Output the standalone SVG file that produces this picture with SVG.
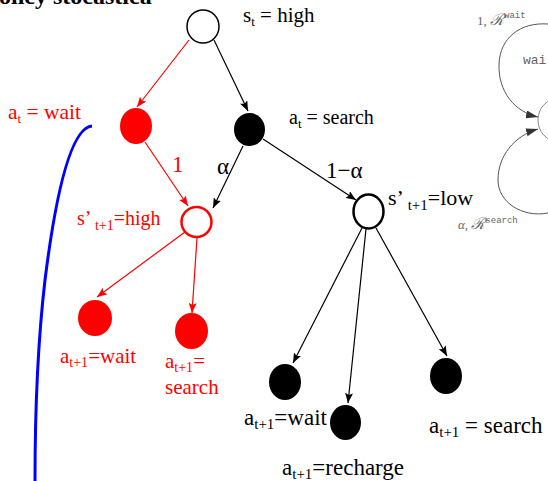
<svg xmlns="http://www.w3.org/2000/svg" width="548" height="481" viewBox="0 0 548 481">
<style>
.t{font-family:"Liberation Serif","Times New Roman",serif}
.r{fill:#ff0000}
.k{fill:#000}
.g{font-family:"Liberation Serif",serif;fill:#666;font-size:13px}
.m{font-family:"Liberation Mono","DejaVu Sans Mono",monospace;fill:#666}
</style>
<defs>
<marker id="ar" viewBox="0 0 10 8" refX="10" refY="4" markerWidth="10" markerHeight="8" markerUnits="userSpaceOnUse" orient="auto"><path d="M0,0 L10,4 L0,8 L2,4 z" fill="#ff0000"/></marker>
<marker id="ak" viewBox="0 0 10 8" refX="10" refY="4" markerWidth="10" markerHeight="8" markerUnits="userSpaceOnUse" orient="auto"><path d="M0,0 L10,4 L0,8 L2,4 z" fill="#000"/></marker>
<marker id="ag" viewBox="0 0 12 8" refX="12" refY="4" markerWidth="12" markerHeight="8" markerUnits="userSpaceOnUse" orient="auto"><path d="M0,0 L12,4 L0,8 z" fill="#333"/></marker>
</defs>
<rect width="548" height="481" fill="#fff"/>

<text x="-1" y="4" font-family="Liberation Serif,serif" font-weight="bold" font-size="24">olicy stocastica</text>

<g id="faded-mdp">
<ellipse cx="557" cy="120" rx="19" ry="21" fill="none" stroke="#888" stroke-width="1"/>
<path d="M548,24 C520,22 500,38 499,64 C498,92 515,112 538,117" fill="none" stroke="#555" stroke-width="1" marker-end="url(#ag)"/>
<path d="M548,213 C522,218 498,202 498,180 C498,156 514,136 538,129" fill="none" stroke="#555" stroke-width="1" marker-end="url(#ag)"/>
<text class="g" x="477" y="25">1, <tspan font-size="16" font-style="italic">ℛ</tspan><tspan class="m" font-size="9" dy="-7">wait</tspan></text>
<text class="m" x="523" y="64" font-size="13">wai</text>
<text class="g" x="458" y="229" font-style="italic">α, <tspan font-size="16">ℛ</tspan><tspan class="m" font-size="9" font-style="normal" dy="-6">search</tspan></text>
</g>

<path id="blue-curve" d="M92,126 C70,128 55,200 45,280 C38,340 35,420 35,481" fill="none" stroke="#0000ff" stroke-width="3"/>

<g id="connectors" stroke-width="1.2">
<line x1="189" y1="40" x2="137" y2="107" stroke="#ff0000" marker-end="url(#ar)"/>
<line x1="214" y1="40" x2="248" y2="111" stroke="#000" marker-end="url(#ak)"/>
<line x1="145" y1="142" x2="188" y2="206" stroke="#ff0000" marker-end="url(#ar)"/>
<line x1="243" y1="146" x2="213" y2="208" stroke="#000" marker-end="url(#ak)"/>
<line x1="263" y1="139" x2="356" y2="200" stroke="#000" marker-end="url(#ak)"/>
<line x1="185" y1="232" x2="97" y2="297" stroke="#ff0000" marker-end="url(#ar)"/>
<line x1="197" y1="238" x2="192" y2="313" stroke="#ff0000" marker-end="url(#ar)"/>
<line x1="362" y1="228" x2="293" y2="363" stroke="#000" marker-end="url(#ak)"/>
<line x1="366" y1="229" x2="348" y2="403" stroke="#000" marker-end="url(#ak)"/>
<line x1="376" y1="228" x2="447" y2="356" stroke="#000" marker-end="url(#ak)"/>
<text class="t r" x="172" y="172" font-size="23">1</text>
<text class="t k" x="217" y="174" font-size="23">α</text>
<text class="t k" x="326" y="178" font-size="23">1−α</text>
</g>

<g id="s_t">
<ellipse cx="203" cy="26.5" rx="16" ry="16.5" fill="#fff" stroke="#000" stroke-width="1.5"/>
<text class="t k" x="243" y="22" font-size="21">s<tspan font-size="13" dy="4">t</tspan><tspan dy="-4"> = high</tspan></text>
</g>

<g id="a_t_wait">
<ellipse cx="136" cy="126" rx="16" ry="18" fill="#ff0000"/>
<text class="t r" x="8" y="119" font-size="21.5">a<tspan font-size="13" dy="4">t</tspan><tspan dy="-4"> = wait</tspan></text>
</g>

<g id="a_t_search">
<ellipse cx="249.5" cy="129.5" rx="15.5" ry="16.5" fill="#000"/>
<text class="t k" x="289" y="124" font-size="20">a<tspan font-size="13" dy="4">t</tspan><tspan dy="-4"> = search</tspan></text>
</g>

<g id="s_high">
<ellipse cx="196.5" cy="222" rx="15" ry="15" fill="#fff" stroke="#ff0000" stroke-width="2.5"/>
<text class="t r" x="77" y="225" font-size="20">s’<tspan font-size="14" dy="5"> t+1</tspan><tspan dy="-5">=high</tspan></text>
</g>

<g id="s_low">
<ellipse cx="368.5" cy="211.5" rx="15" ry="17" fill="#fff" stroke="#000" stroke-width="2.5"/>
<text class="t k" x="388" y="205" font-size="22">s’<tspan font-size="15" dy="5"> t+1</tspan><tspan dy="-5">=low</tspan></text>
</g>

<g id="a1_wait_red">
<ellipse cx="95" cy="318" rx="17" ry="18" fill="#ff0000"/>
<text class="t r" x="60" y="363" font-size="21">a<tspan font-size="14" dy="4">t+1</tspan><tspan dy="-4">=wait</tspan></text>
</g>

<g id="a1_search_red">
<ellipse cx="191.5" cy="331" rx="16.5" ry="18" fill="#ff0000"/>
<text class="t r" x="165" y="368" font-size="21">a<tspan font-size="14" dy="4">t+1</tspan><tspan dy="-4">=</tspan></text>
<text class="t r" x="165" y="394" font-size="21">search</text>
</g>

<g id="a1_wait">
<ellipse cx="285" cy="382" rx="16" ry="18" fill="#000"/>
<text class="t k" x="244" y="425" font-size="23">a<tspan font-size="15" dy="4">t+1</tspan><tspan dy="-4">=wait</tspan></text>
</g>

<g id="a1_recharge">
<ellipse cx="345.5" cy="422.5" rx="15.5" ry="17.5" fill="#000"/>
<text class="t k" x="282" y="475" font-size="23">a<tspan font-size="15" dy="4">t+1</tspan><tspan dy="-4">=recharge</tspan></text>
</g>

<g id="a1_search">
<ellipse cx="446" cy="376" rx="16" ry="18" fill="#000"/>
<text class="t k" x="429" y="433" font-size="23">a<tspan font-size="15" dy="4">t+1</tspan><tspan dy="-4"> = search</tspan></text>
</g>
</svg>
